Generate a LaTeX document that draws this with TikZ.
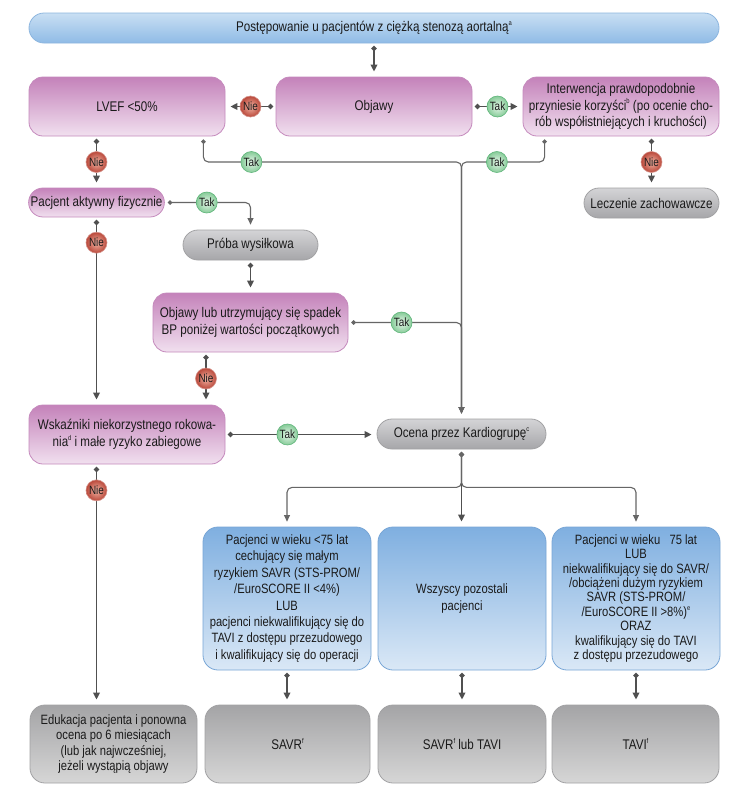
\documentclass[tikz,border=0pt]{standalone}
\usepackage{fontspec}
\setmainfont{Liberation Sans}[FakeStretch=0.83]
\usetikzlibrary{arrows.meta,calc}
\newcommand\fnsup[1]{\raisebox{0.85ex}{\fontsize{7}{7}\selectfont #1}}
\definecolor{txt}{HTML}{1A1A1A}
\definecolor{lineC}{HTML}{505050}
\definecolor{lineT}{HTML}{666666}
\definecolor{pinkT}{HTML}{C482BA}
\definecolor{pinkB}{HTML}{F1E0EF}
\definecolor{pinkD}{HTML}{C58ABD}
\definecolor{topT}{HTML}{C9DFF3}
\definecolor{topB}{HTML}{8FBBE6}
\definecolor{topD}{HTML}{8DB6DF}
\definecolor{bluT}{HTML}{7FAFE0}
\definecolor{bluB}{HTML}{DAE8F6}
\definecolor{bluD}{HTML}{78A6D6}
\definecolor{gpT}{HTML}{D4D4D6}
\definecolor{gpB}{HTML}{A6A6A9}
\definecolor{gpD}{HTML}{A2A2A4}
\definecolor{gbT}{HTML}{A4A4A6}
\definecolor{gbB}{HTML}{D6D6D6}
\definecolor{nieI}{HTML}{F2B3A3}
\definecolor{nieO}{HTML}{B9483A}
\definecolor{takI}{HTML}{E6F6E9}
\definecolor{takO}{HTML}{86CB98}
\definecolor{takD}{HTML}{5FB57A}
\begin{document}
\begin{tikzpicture}[x=1pt,y=-1pt,
  box/.style={rectangle, align=center, inner xsep=2pt, inner ysep=2pt, text=txt,
    font=\fontsize{14}{16.5}\selectfont, line width=0.8pt},
  pinkbox/.style={box, rounded corners=14pt, draw=pinkD, top color=pinkT, bottom color=pinkB,
    minimum width=196pt, minimum height=59pt},
  pinkpill/.style={box, rounded corners=14.5pt, draw=pinkD, top color=pinkT, bottom color=pinkB,
    minimum height=29pt},
  graypill/.style={box, rounded corners=15pt, draw=gpD, top color=gpT, bottom color=gpB,
    minimum height=30pt},
  topbox/.style={box, rounded corners=15pt, draw=topD, top color=topT, bottom color=topB,
    minimum width=690pt, minimum height=30pt},
  bluebox/.style={box, rounded corners=15pt, draw=bluD, top color=bluT, bottom color=bluB,
    minimum width=168pt, minimum height=143pt},
  graybox/.style={box, rounded corners=15pt, draw=gpD, top color=gbT, bottom color=gbB,
    minimum height=78pt},
  nie/.style={circle, inner sep=0pt, minimum size=21pt, draw=nieO!60!white, line width=0.6pt,
    inner color=nieI, outer color=nieO, text=txt, font=\fontsize{12}{12}\selectfont},
  tak/.style={circle, inner sep=0pt, minimum size=21pt, draw=takD, line width=0.6pt,
    inner color=takI, outer color=takO, text=txt, font=\fontsize{12}{12}\selectfont},
  conn/.style={draw=lineC, line width=1.8pt, {Circle[length=5pt,width=5pt]}-{Triangle[length=7pt,width=6.5pt]},
    shorten <=2.5pt, shorten >=5pt},
  thinc/.style={draw=lineT, line width=1.1pt, {Circle[length=4.5pt,width=4.5pt]}-{Triangle[length=6.5pt,width=6pt]},
    shorten <=3pt, shorten >=5pt, rounded corners=5pt}
]
\fill[white] (0,0) rectangle (744,796);
\useasboundingbox (0,0) rectangle (744,796);

% nodes
\node[topbox] (top) at (374,28) {Postępowanie u pacjentów z ciężką stenozą aortalną\fnsup{a}};
\node[pinkbox] (lvef) at (127,106.5) {LVEF <50\%};
\node[pinkbox] (objawy) at (374,106.5) {Objawy};
\node[pinkbox] (interw) at (621,106.5) {Interwencja prawdopodobnie\\przyniesie korzyści\fnsup{b} (po ocenie cho-\\rób współistniejących i kruchości)};
\node[pinkpill, minimum width=135pt] (pacjent) at (96.5,202.5) {Pacjent aktywny fizycznie};
\node[graypill, minimum width=135pt] (leczenie) at (651.5,203) {Leczenie zachowawcze};
\node[graypill, minimum width=135pt] (proba) at (250.5,245) {Próba wysiłkowa};
\node[pinkbox, minimum width=195pt] (objlub) at (250.5,322.5) {Objawy lub utrzymujący się spadek\\BP poniżej wartości początkowych};
\node[pinkbox] (wsk) at (127,434.5) {Wskaźniki niekorzystnego rokowa-\\nia\fnsup{d} i małe ryzyko zabiegowe};
\node[graypill, minimum width=169pt] (ocena) at (461.5,434) {Ocena przez Kardiogrupę\fnsup{c}};

\node[bluebox, font=\fontsize{13.5}{16.4}\selectfont] (blue1) at (287,598.5) {Pacjenci w wieku <75 lat\\cechujący się małym\\ryzykiem SAVR (STS-PROM/\\/EuroSCORE II <4\%)\\LUB\\pacjenci niekwalifikujący się do\\TAVI z dostępu przezudowego\\i kwalifikujący się do operacji};
\node[bluebox, font=\fontsize{13.5}{16.4}\selectfont] (blue2) at (462,598.5) {Wszyscy pozostali\\pacjenci};
\node[bluebox, font=\fontsize{13.5}{14.4}\selectfont] (blue3) at (636,598.5) {Pacjenci w wieku \ \ 75 lat\\LUB\\niekwalifikujący się do SAVR/\\/obciążeni dużym ryzykiem\\SAVR (STS-PROM/\\/EuroSCORE II >8\%)\fnsup{e}\\ORAZ\\kwalifikujący się do TAVI\\z dostępu przezudowego};

\node[graybox, minimum width=167pt, font=\fontsize{13.5}{15.6}\selectfont] (bot1) at (113.5,744) {Edukacja pacjenta i ponowna\\ocena po 6 miesiącach\\(lub jak najwcześniej,\\jeżeli wystąpią objawy};
\node[graybox, minimum width=165pt] (bot2) at (287.5,744) {SAVR\fnsup{f}};
\node[graybox, minimum width=168pt] (bot3) at (462,744) {SAVR\fnsup{f} lub TAVI};
\node[graybox, minimum width=167pt] (bot4) at (635.5,744) {TAVI\fnsup{f}};

\coordinate (jn) at (ocena.north |- 0,162);
\coordinate (jb) at ($(ocena.south)+(0,38)$);

% connectors
\draw[conn] (top) -- (objawy);
\draw[conn] (objawy) -- node[nie]{Nie} (lvef);
\draw[conn] (objawy) -- node[tak]{Tak} (interw);
\draw[conn] (lvef.south -| pacjent.north) -- node[nie]{Nie} (pacjent.north);
\draw[conn] (interw.south -| leczenie.north) -- node[nie]{Nie} (leczenie.north);
\draw[thinc] (pacjent.east) -- node[tak,pos=0.49]{Tak} (pacjent.east -| proba.north) -- (proba.north);
\draw[conn] (proba) -- (objlub);
\draw[conn] (pacjent.south) -- node[nie,pos=0.135]{Nie} (pacjent.south |- wsk.north);
\draw[conn] ([xshift=-44.5pt]objlub.south) -- node[nie]{Nie} ([xshift=-44.5pt]objlub.south |- wsk.north);
\draw[thinc] ([xshift=-22pt]lvef.south east) |- node[tak,pos=0.593]{Tak} (jn) -- (ocena.north);
\draw[thinc] ([xshift=22pt]interw.south west) |- node[tak,pos=0.787]{Tak} (jn) -- (ocena.north);
\draw[thinc] (objlub.east) -- node[tak,pos=0.47]{Tak} (objlub.east -| ocena.north) -- (ocena.north);
\draw[conn] (wsk.east) -- node[tak,pos=0.41]{Tak} (wsk.east -| ocena.west);
\draw[conn] (wsk.south -| pacjent.south) -- node[nie,pos=0.108]{Nie} (pacjent.south |- bot1.north);
\draw[conn] (ocena.south) -- (ocena.south |- blue2.north);
\draw[thinc] (ocena.south) -- (jb) -| (blue1.north);
\draw[thinc] (ocena.south) -- (jb) -| (blue3.north);
\draw[conn] (blue1.south) -- (blue1.south |- bot2.north);
\draw[conn] (blue2.south) -- (blue2.south |- bot3.north);
\draw[conn] (blue3.south) -- (blue3.south |- bot4.north);
\end{tikzpicture}
\end{document}
